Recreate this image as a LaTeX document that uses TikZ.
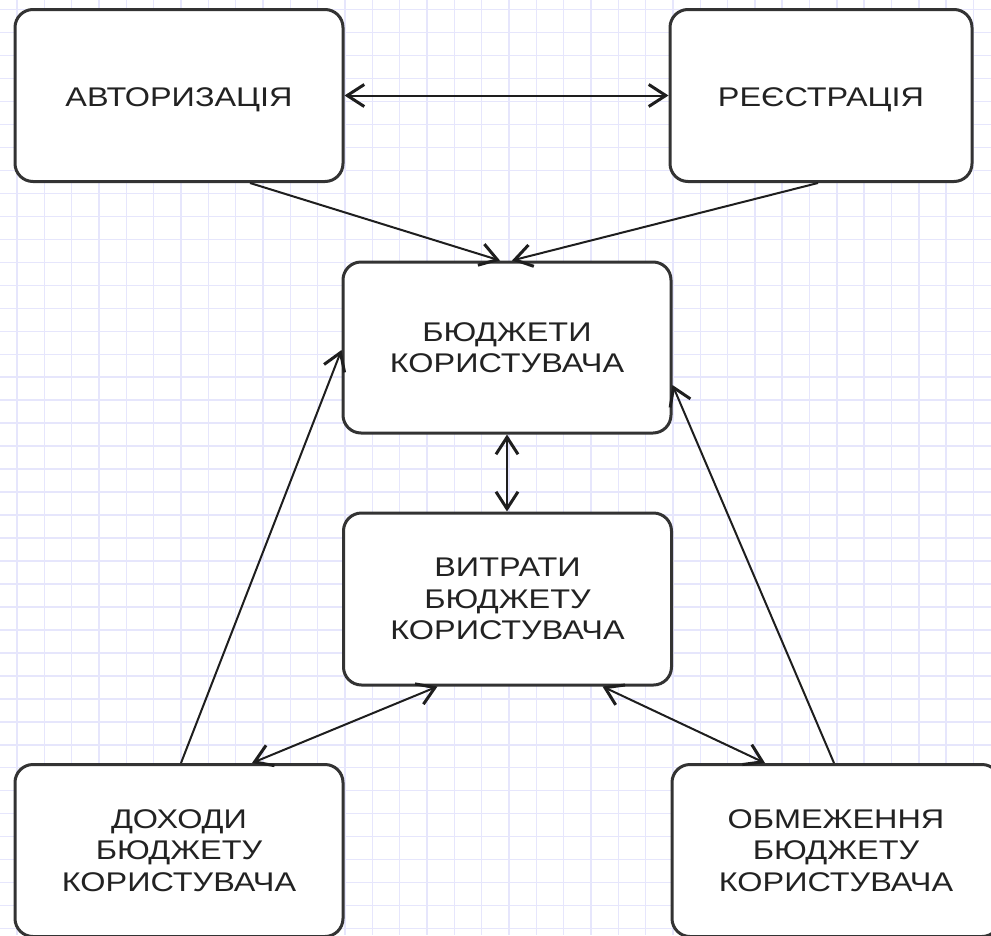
\documentclass[tikz,border=0pt]{standalone}
\usepackage{fontspec}
\setmainfont[FakeStretch=1.2]{Liberation Sans}
\usetikzlibrary{arrows.meta}
\definecolor{gridc}{RGB}{230,230,252}
\definecolor{boxc}{RGB}{51,51,51}
\definecolor{linec}{RGB}{30,30,30}
\definecolor{txtc}{RGB}{34,34,34}
\begin{document}
\begin{tikzpicture}[x=1pt,y=-1pt,
  box/.style={draw=boxc, line width=3pt, rounded corners=18pt, fill=white,
    minimum width=328pt, minimum height=172pt, inner sep=0pt, align=center,
    font=\fontsize{27}{31.5}\selectfont, text=txtc},
  tip/.tip={Straight Barb[length=17pt,width=22pt,line width=3pt]},
  conn/.style={draw=linec, line width=2pt, -tip},
  biconn/.style={draw=linec, line width=2pt, tip-tip}]
\useasboundingbox (0,0) rectangle (991,935);
\clip (0,0) rectangle (991,935);
\fill[white] (0,0) rectangle (991,935);
\foreach \i in {0,...,35} \draw[gridc, line width=1.5pt] ({17+27.33*\i},0) -- ({17+27.33*\i},935);
\foreach \j in {0,...,40} \draw[gridc, line width=1.5pt] (0,{9.7+22.97*\j}) -- (991,{9.7+22.97*\j});

\node[box] (auth) at (179,95.5) {\raisebox{-11pt}[0pt][0pt]{АВТОРИЗАЦІЯ}};
\node[box, minimum width=302pt] (reg) at (821,95.5) {\raisebox{-11pt}[0pt][0pt]{РЕЄСТРАЦІЯ}};
\node[box, minimum height=171pt] (budg) at (507,347.5) {БЮДЖЕТИ\\КОРИСТУВАЧА};
\node[box] (exp) at (507.5,599) {ВИТРАТИ\\БЮДЖЕТУ\\КОРИСТУВАЧА};
\node[box] (inc) at (179,850.5) {ДОХОДИ\\БЮДЖЕТУ\\КОРИСТУВАЧА};
\node[box] (lim) at (836,850.5) {ОБМЕЖЕННЯ\\БЮДЖЕТУ\\КОРИСТУВАЧА};

\draw[biconn] (auth.east) -- (reg.west);
\draw[conn] ([xshift=71pt]auth.south) -- ([xshift=-7pt]budg.north);
\draw[conn] ([xshift=-3pt]reg.south) -- ([xshift=5pt]budg.north);
\draw[biconn] (budg.south) -- (exp.north -| budg.south);
\draw[biconn] ([xshift=-70pt]exp.south) -- ([xshift=73pt]inc.north);
\draw[biconn] ([xshift=95pt]exp.south) -- ([xshift=-71pt]lim.north);
\draw[conn] ([xshift=2pt]inc.north) -- ([yshift=-2.5pt]budg.west);
\draw[conn] ([xshift=-2pt]lim.north) -- ([yshift=-37.5pt]budg.east);
\end{tikzpicture}
\end{document}
